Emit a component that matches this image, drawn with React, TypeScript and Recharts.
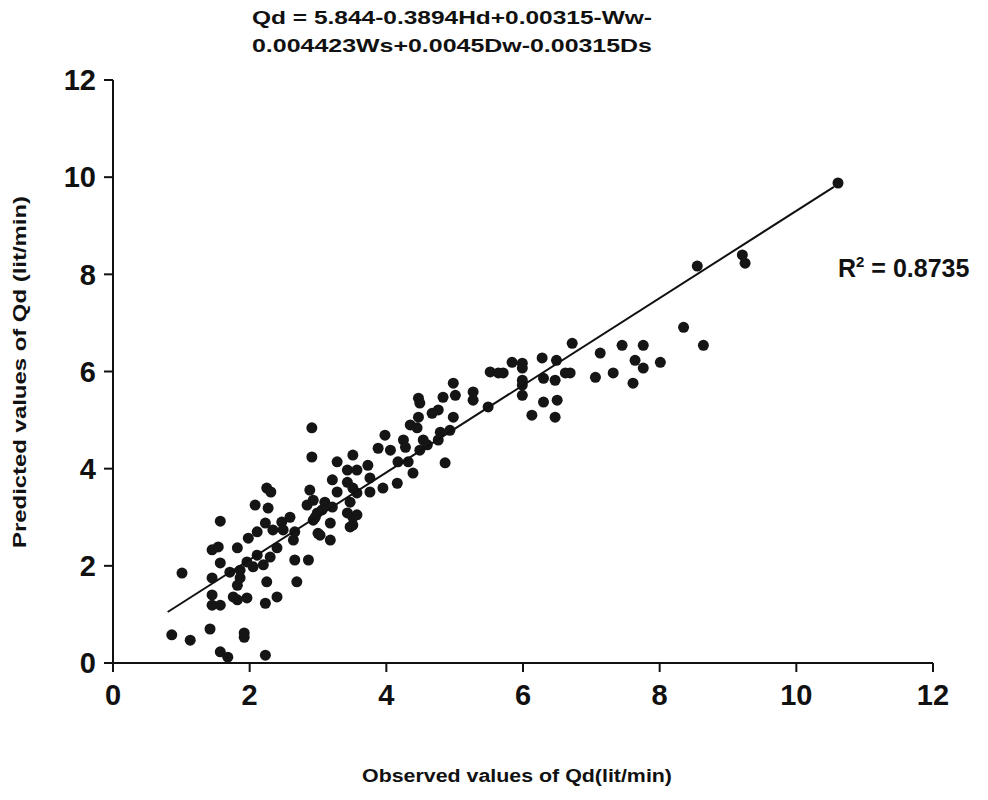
import React from "react";
import { ScatterChart, Scatter, XAxis, YAxis } from "recharts";

const observed = [
  0.86, 1.13, 1.42, 1.92, 1.92, 1.57, 1.68, 2.23, 1.01, 1.57,
  1.45, 1.45, 1.45, 1.57, 1.82, 1.96, 2.23, 2.4, 2.25, 2.69,
  2.66, 2.86, 1.57, 1.71, 1.86, 1.82, 1.54, 1.45, 1.82, 1.98,
  2.11, 2.23, 2.08, 2.27, 2.59, 2.84, 2.49, 2.66, 2.4, 2.2,
  2.05, 1.96, 2.11, 2.3, 1.86, 2.64, 2.93, 2.99, 2.25, 2.31,
  2.34, 2.47, 2.88, 2.93, 3.0, 2.91, 1.76, 2.91, 3.51, 3.28,
  3.43, 3.57, 3.21, 3.43, 3.51, 3.28, 3.1, 3.21, 3.06, 2.96,
  3.47, 3.43, 3.57, 3.18, 3.03, 3.18, 3.51, 4.98, 5.27, 5.27,
  5.01, 4.83, 4.47, 4.49, 4.76, 4.67, 4.47, 4.98, 4.35, 4.45,
  4.79, 4.93, 3.98, 4.25, 4.28, 4.54, 4.6, 4.76, 4.49, 3.88,
  4.06, 4.17, 4.32, 3.73, 4.86, 4.39, 3.76, 3.95, 4.16, 3.57,
  3.76, 3.51, 3.47, 6.72, 7.45, 7.76, 7.13, 7.64, 8.01, 7.76,
  7.32, 7.06, 7.61, 5.84, 5.99, 5.99, 6.28, 6.49, 5.52, 5.64,
  5.71, 5.99, 5.99, 6.3, 6.47, 6.62, 6.69, 5.99, 5.49, 6.3,
  6.5, 6.13, 6.47, 8.35, 8.64, 8.55, 9.25, 9.21, 10.61,
];
const predicted = [
  0.58, 0.47, 0.7, 0.62, 0.53, 0.23, 0.12, 0.16, 1.85, 2.92,
  1.75, 1.4, 1.19, 1.19, 1.3, 1.34, 1.23, 1.36, 1.67, 1.67,
  2.12, 2.12, 2.06, 1.87, 1.75, 1.6, 2.39, 2.33, 2.37, 2.57,
  2.7, 2.88, 3.25, 3.19, 3.0, 3.25, 2.74, 2.7, 2.37, 2.02,
  1.98, 2.08, 2.22, 2.18, 1.91, 2.53, 2.94, 3.09, 3.6, 3.52,
  2.74, 2.9, 3.56, 3.35, 2.67, 4.24, 1.36, 4.84, 4.28, 4.14,
  3.97, 3.97, 3.77, 3.72, 3.6, 3.52, 3.31, 3.21, 3.15, 3.0,
  3.31, 3.09, 3.05, 2.88, 2.63, 2.53, 2.84, 5.76, 5.58, 5.41,
  5.51, 5.47, 5.45, 5.35, 5.21, 5.14, 5.06, 5.06, 4.9, 4.84,
  4.75, 4.79, 4.69, 4.59, 4.44, 4.59, 4.49, 4.59, 4.38, 4.42,
  4.38, 4.14, 4.14, 4.07, 4.12, 3.91, 3.81, 3.6, 3.7, 3.5,
  3.52, 3.0, 2.8, 6.58, 6.54, 6.54, 6.38, 6.23, 6.19, 6.07,
  5.97, 5.88, 5.76, 6.19, 6.17, 6.07, 6.28, 6.23, 5.99, 5.97,
  5.97, 5.82, 5.72, 5.86, 5.82, 5.97, 5.97, 5.51, 5.27, 5.37,
  5.41, 5.1, 5.06, 6.91, 6.54, 8.17, 8.23, 8.4, 9.88,
];

const trendObserved = [0.8, 10.55];
const trendPredicted = [1.05, 9.8];

const xTicks = [0, 2, 4, 6, 8, 10, 12];
const yTicks = [0, 2, 4, 6, 8, 10, 12];

const points = observed.map((x, i) => ({ x, y: predicted[i] }));
const trend = trendObserved.map((x, i) => ({ x, y: trendPredicted[i] }));

const font = "'Liberation Sans', Arial, sans-serif";
const tickStyle = { fontSize: 29, fontWeight: 700, fill: "#111", fontFamily: font };

const Dot = (p: any) => <circle cx={p.cx} cy={p.cy} r={5.5} fill="#151515" />;
const NoDot = () => <g />;

export default function App() {
  return (
    <div style={{ position: "absolute", left: 0, top: 0, width: 988, height: 800, background: "#fff" }}>
      <ScatterChart width={988} height={800} margin={{ top: 80, right: 55, left: 53, bottom: 97 }}>
        <XAxis
          type="number"
          dataKey="x"
          domain={[0, 12]}
          ticks={xTicks}
          tickSize={9}
          tickMargin={12}
          stroke="#111"
          strokeWidth={2}
          tick={tickStyle}
          height={40}
        />
        <YAxis
          type="number"
          dataKey="y"
          domain={[0, 12]}
          ticks={yTicks}
          tickSize={9}
          tickMargin={8}
          stroke="#111"
          strokeWidth={2}
          tick={tickStyle}
          width={60}
        />
        <Scatter data={points} shape={Dot} isAnimationActive={false} />
        <Scatter
          data={trend}
          line={{ stroke: "#111", strokeWidth: 2 }}
          shape={NoDot}
          isAnimationActive={false}
        />
      </ScatterChart>
      <svg width={988} height={800} style={{ position: "absolute", left: 0, top: 0, pointerEvents: "none" }}>
        <g fontFamily={font} fontWeight={700} fill="#111">
          <text x={252} y={24} fontSize={19} textLength={400} lengthAdjust="spacingAndGlyphs">
            Qd = 5.844-0.3894Hd+0.00315-Ww-
          </text>
          <text x={252} y={52} fontSize={19} textLength={400} lengthAdjust="spacingAndGlyphs">
            0.004423Ws+0.0045Dw-0.00315Ds
          </text>
          <text x={838} y={277} fontSize={25}>
            R<tspan dy={-10} fontSize={15}>2</tspan>
            <tspan dy={10}> = 0.8735</tspan>
          </text>
          <text x={517} y={782} fontSize={18} textAnchor="middle" textLength={310} lengthAdjust="spacingAndGlyphs">
            Observed values of Qd(lit/min)
          </text>
          <text
            transform="translate(26, 372) rotate(-90)"
            fontSize={18}
            textAnchor="middle"
            textLength={352}
            lengthAdjust="spacingAndGlyphs"
          >
            Predicted values of Qd (lit/min)
          </text>
        </g>
      </svg>
    </div>
  );
}
